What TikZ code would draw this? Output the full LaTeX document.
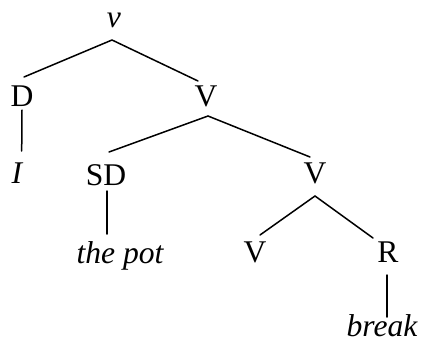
\documentclass[tikz,border=0pt]{standalone}
\usepackage{fontspec}
\setmainfont{Liberation Serif}
\begin{document}
\begin{tikzpicture}[x=1pt,y=1pt,
  lbl/.style={anchor=base,inner sep=0pt,font=\fontsize{31.6}{38}\selectfont},
  edge/.style={line width=1.5pt,line cap=round}]
\useasboundingbox (0,0) rectangle (422,341);
\node[lbl] (v) at (114,314) {\itshape v};
\node[lbl] (D) at (22,235) {D};
\node[lbl] (V1) at (206,235) {V};
\node[lbl] (I) at (17,158) {\itshape I};
\node[lbl] (SD) at (106,156) {SD};
\node[lbl] (V2) at (315,158) {V};
\node[lbl] (pot) at (120,78) {\itshape the pot};
\node[lbl] (V3) at (255,79) {V};
\node[lbl] (R) at (388,79) {R};
\node[lbl] (brk) at (382,5) {\itshape break};
\draw[edge] ([xshift=2pt,yshift=29pt]D.base) -- ([xshift=-2pt,yshift=-13pt]v.base) -- ([xshift=-8pt,yshift=25pt]V1.base);
\draw[edge] ([xshift=3pt,yshift=33pt]SD.base) -- ([xshift=2pt,yshift=-10pt]V1.base) -- ([xshift=-5pt,yshift=26pt]V2.base);
\draw[edge] ([xshift=5pt,yshift=27pt]V3.base) -- ([yshift=-13pt]V2.base) -- ([xshift=-15pt,yshift=24pt]R.base);
\draw[edge] ([yshift=-4pt]D.base) -- ([xshift=4.7pt,yshift=32pt]I.base);
\draw[edge] ([xshift=1pt,yshift=-6pt]SD.base) -- ([xshift=-13pt,yshift=29pt]pot.base);
\draw[edge] ([xshift=-1pt,yshift=-13pt]R.base) -- ([xshift=5pt,yshift=19pt]brk.base);
\end{tikzpicture}
\end{document}
